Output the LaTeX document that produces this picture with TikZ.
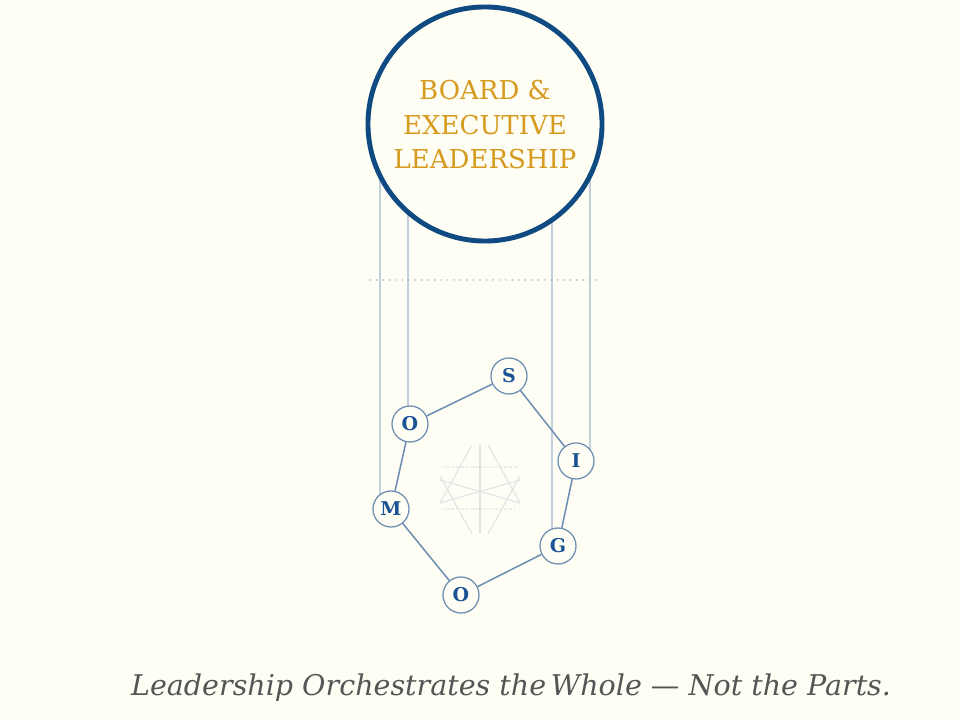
\documentclass[tikz,border=0pt]{standalone}
\usepackage{fontspec}
\setmainfont{DejaVu Serif}
\usepackage{tikz}
\usetikzlibrary{backgrounds,calc}

\definecolor{paper}{HTML}{FFFEF5}
\definecolor{navy}{HTML}{0F4A82}
\definecolor{gold}{HTML}{D69A1E}
\definecolor{steel}{HTML}{6E8FB3}
\definecolor{letter}{HTML}{1B5394}
\definecolor{hang}{HTML}{C2CFDC}
\definecolor{mark}{HTML}{DDE5E5}
\definecolor{slogan}{HTML}{555555}

\tikzset{
  board/.style={circle,draw=navy,line width=3.5pt,fill=paper,minimum size=5.85cm,
    align=center,text=gold,font=\fontsize{18.5}{24.5}\selectfont},
  letterbox/.style={circle,draw=steel,line width=0.9pt,fill=paper,minimum size=0.9cm,
    inner sep=0pt,text=letter,font=\fontsize{13.5}{13.5}\selectfont\bfseries},
  ring/.style={draw=steel,line width=1.1pt},
  hanger/.style={draw=hang,line width=1pt},
  faint/.style={draw=mark,line width=0.8pt}
}

\begin{document}
\begin{tikzpicture}[x=0.025cm,y=-0.025cm]
\useasboundingbox (0,0) rectangle (960,720);
  \node[board] (lead) at (485,124) {\\[-10pt]BOARD \&\\EXECUTIVE\\LEADERSHIP};
  \node[letterbox] (s) at (509,376) {S};
  \node[letterbox] (o1) at (410,424) {O};
  \node[letterbox] (i) at (576,461) {I};
  \node[letterbox] (m) at (391,509) {M};
  \node[letterbox] (g) at (558,546) {G};
  \node[letterbox] (o2) at (461,595) {O};
  \node[text=slogan,font=\fontsize{20.3}{22}\selectfont\itshape,anchor=base] (motto) at (511,695)
    {Leadership Orchestrates the\,Whole — Not the Parts.};
\begin{scope}[on background layer]
  \fill[paper] (0,0) rectangle (960,720);
  % hanging lines
  \draw[hanger] ($(lead.center)+(-105,0)$) -- ($(m.center)+(-11,0)$);
  \draw[hanger] ($(lead.center)+(-77,0)$) -- ($(o1.center)+(-2,0)$);
  \draw[hanger] ($(lead.center)+(67,0)$) -- ($(g.center)+(-6,0)$);
  \draw[hanger] ($(lead.center)+(105,0)$) -- ($(i.center)+(14,0)$);
  \draw[draw=steel!70,line width=1.2pt,line cap=round,dash pattern=on 0pt off 4.6pt]
    (370,280) -- (597,280);
  % watermark
  \draw[faint] (480,445) -- (480,534);
  \draw[faint,densely dotted] (443,467) -- (517,467);
  \draw[faint,densely dotted] (443,509) -- (515,509);
  \draw[faint] (472,445) -- (440,503);
  \draw[faint] (488,445) -- (520,503);
  \draw[faint] (472,534) -- (440,476);
  \draw[faint] (488,534) -- (520,476);
  \draw[faint] (440,480) -- (520,503);
  \draw[faint] (520,480) -- (440,503);
  % ring
  \draw[ring] (s) -- (o1);
  \draw[ring] (o1) -- (m);
  \draw[ring] (m) -- (o2);
  \draw[ring] (o2) -- (g);
  \draw[ring] (g) -- (i);
  \draw[ring] (i) -- (s);
\end{scope}
\end{tikzpicture}
\end{document}
